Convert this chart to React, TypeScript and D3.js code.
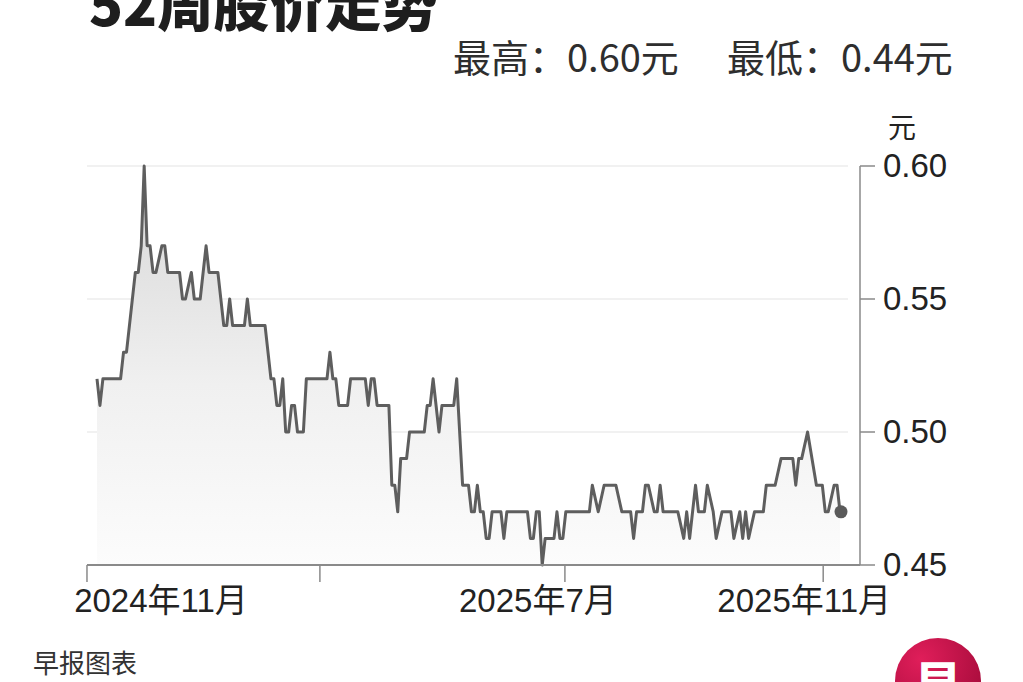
import React from "react";
import * as d3 from "d3";

// Trading-day index (0 = first session shown) and closing price (元)
const days = [0,1,2,8,9,10,13,14,15,16,17,18,19,20,22,23,24,28,29,30,32,33,35,37,38,41,43,44,45,46,50,51,52,57,59,60,61,62,63,64,65,66,67,68,70,71,78,79,80,81,82,85,86,91,92,93,94,95,99,100,101,102,103,105,106,111,112,113,114,116,117,121,122,124,126,127,128,129,130,131,132,133,134,137,138,139,146,147,148,149,150,151,152,155,156,157,158,159,167,168,170,172,176,178,181,182,183,185,186,187,189,190,191,192,197,199,200,201,203,204,206,207,209,210,212,215,216,218,219,220,221,223,226,227,230,232,236,237,238,239,241,244,246,247,248,250,251,252];
const prices = [0.52,0.51,0.52,0.52,0.53,0.53,0.56,0.56,0.57,0.60,0.57,0.57,0.56,0.56,0.57,0.57,0.56,0.56,0.55,0.55,0.56,0.55,0.55,0.57,0.56,0.56,0.54,0.54,0.55,0.54,0.54,0.55,0.54,0.54,0.52,0.52,0.51,0.51,0.52,0.50,0.50,0.51,0.51,0.50,0.50,0.52,0.52,0.53,0.52,0.52,0.51,0.51,0.52,0.52,0.51,0.52,0.52,0.51,0.51,0.48,0.48,0.47,0.49,0.49,0.50,0.50,0.51,0.51,0.52,0.50,0.51,0.51,0.52,0.48,0.48,0.47,0.47,0.48,0.47,0.47,0.46,0.46,0.47,0.47,0.46,0.47,0.47,0.46,0.46,0.47,0.47,0.45,0.46,0.46,0.47,0.46,0.46,0.47,0.47,0.48,0.47,0.48,0.48,0.47,0.47,0.46,0.47,0.47,0.48,0.48,0.47,0.47,0.48,0.47,0.47,0.46,0.47,0.46,0.48,0.47,0.47,0.48,0.47,0.46,0.47,0.47,0.46,0.47,0.46,0.47,0.46,0.47,0.47,0.48,0.48,0.49,0.49,0.48,0.49,0.49,0.50,0.48,0.48,0.47,0.47,0.48,0.48,0.47];

// Month boundaries on the trading-day axis
const tickDays = [-3.4, 75.6, 158.7, 246.3];
const tickLabels = ["2024年11月", "", "2025年7月", "2025年11月"];
const tickLabelDx = [74, 0, -27, -19];

const yTicks = [0.45, 0.5, 0.55, 0.6];
const gridValues = [0.5, 0.55, 0.6];

const title = "52周股价走势";
const highText = "最高：0.60元";
const lowText = "最低：0.44元";
const unit = "元";
const source = "早报图表";

const W = 1023;
const H = 682;
const LATIN = "'Liberation Sans', Arial, 'Noto Sans CJK SC', sans-serif";
const CJK = "'Noto Sans CJK SC', sans-serif";

export default function App() {
  const x = d3.scaleLinear().domain([0, 252]).range([97, 840]);
  const y = d3.scaleLinear().domain([0.45, 0.6]).range([565, 166]);
  const pts = days.map((d, i) => [d, prices[i]] as [number, number]);
  const line = d3.line<[number, number]>().x((d) => x(d[0])).y((d) => y(d[1]));
  const area = d3
    .area<[number, number]>()
    .x((d) => x(d[0]))
    .y0(y(0.45))
    .y1((d) => y(d[1]));
  const last = pts[pts.length - 1];
  const axisLeft = x(-3.4);
  const axisX = 860;

  return (
    <svg
      width={W}
      height={H}
      style={{ position: "absolute", left: 0, top: 0, background: "#fff" }}
      fontFamily={LATIN}
    >
      <defs>
        <linearGradient id="fillGrad" x1="0" y1="0" x2="0" y2="1" gradientUnits="objectBoundingBox">
          <stop offset="0%" stopColor="#d6d6d6" />
          <stop offset="55%" stopColor="#f0f0f0" />
          <stop offset="100%" stopColor="#fcfcfc" />
        </linearGradient>
        <radialGradient id="logoGrad" cx="30%" cy="25%" r="80%">
          <stop offset="0%" stopColor="#e01e5a" />
          <stop offset="100%" stopColor="#a80c3c" />
        </radialGradient>
      </defs>

      <text x={89} y={26} fontSize={56} fontWeight={900} fill="#1e1e1e" fontFamily={CJK}>
        {title}
      </text>
      <text x={453} y={72} fontSize={38} fill="#2e2e2e" fontFamily={CJK}>
        {highText}
      </text>
      <text x={727} y={72} fontSize={38} fill="#2e2e2e" fontFamily={CJK}>
        {lowText}
      </text>

      {gridValues.map((v) => (
        <line key={v} x1={axisLeft} x2={848} y1={y(v)} y2={y(v)} stroke="#ececec" strokeWidth={1.5} />
      ))}

      <path d={area(pts) || ""} fill="url(#fillGrad)" />
      <path d={line(pts) || ""} fill="none" stroke="#5e5e5e" strokeWidth={3} strokeLinejoin="round" />
      <circle cx={x(last[0]) + 1} cy={y(last[1])} r={6.5} fill="#5a5a5a" />

      {/* x axis */}
      <line x1={axisLeft} x2={axisX} y1={y(0.45)} y2={y(0.45)} stroke="#8a8a8a" strokeWidth={2} />
      {tickDays.map((d, i) => (
        <g key={i}>
          <line x1={x(d)} x2={x(d)} y1={y(0.45)} y2={y(0.45) + 17} stroke="#8a8a8a" strokeWidth={1.5} />
          {tickLabels[i] && (
            <text x={x(d) + tickLabelDx[i]} y={612} fontSize={33} fill="#222" textAnchor="middle">
              {tickLabels[i]}
            </text>
          )}
        </g>
      ))}

      {/* y axis */}
      <line x1={axisX} x2={axisX} y1={y(0.6)} y2={y(0.45)} stroke="#8a8a8a" strokeWidth={1.5} />
      {yTicks.map((v) => (
        <g key={v}>
          <line x1={axisX} x2={axisX + 15} y1={y(v)} y2={y(v)} stroke="#8a8a8a" strokeWidth={1.5} />
          <text x={883} y={y(v) + 11} fontSize={33} fill="#222">
            {d3.format(".2f")(v)}
          </text>
        </g>
      ))}
      <text x={902} y={138} fontSize={28} fill="#222" textAnchor="middle" fontFamily={CJK}>
        {unit}
      </text>

      <text x={33} y={673} fontSize={26} fill="#333" fontFamily={CJK}>
        {source}
      </text>

      <circle cx={938} cy={681} r={43} fill="url(#logoGrad)" />
      <text x={938} y={700} fontSize={46} fontWeight={900} fill="#fff" textAnchor="middle" fontFamily={CJK}>
        早
      </text>
    </svg>
  );
}
